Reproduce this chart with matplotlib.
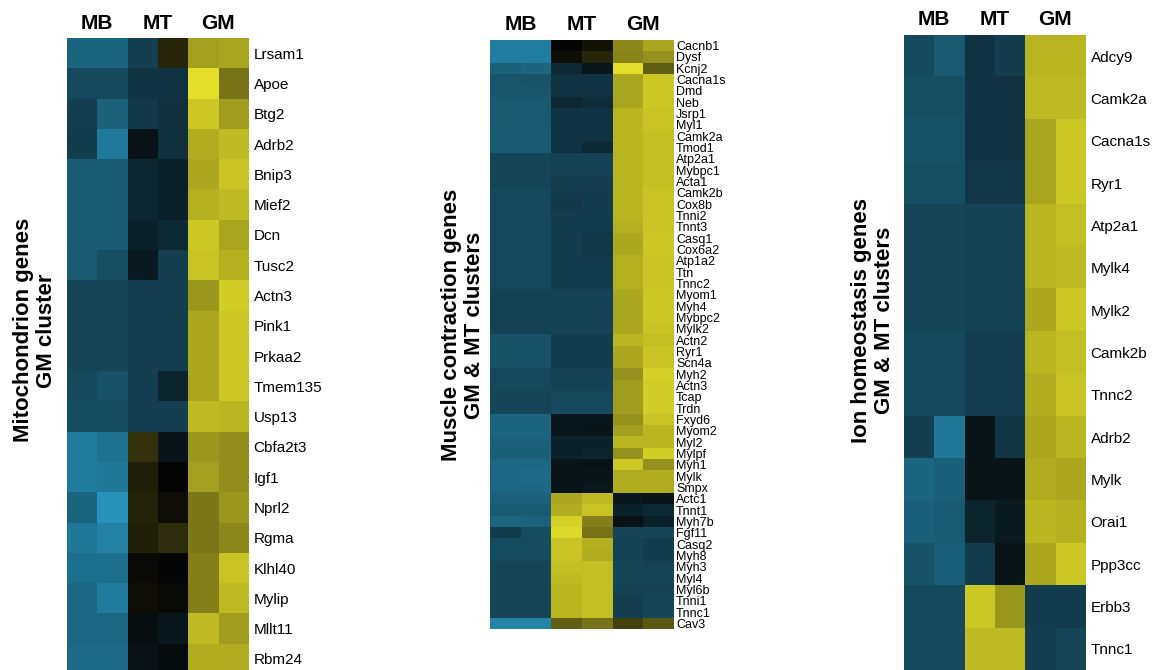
import matplotlib
matplotlib.use("Agg")
import matplotlib.pyplot as plt
import numpy as np
from matplotlib.colors import LinearSegmentedColormap

plt.rcParams['font.family'] = ['Liberation Sans', 'DejaVu Sans']

# Grupos de columnas (2 réplicas por grupo)
grupos = ["MB", "MT", "GM"]

# Panel 1: genes mitocondriales
genes_mito = ["Lrsam1", "Apoe", "Btg2", "Adrb2", "Bnip3", "Mief2", "Dcn", "Tusc2",
              "Actn3", "Pink1", "Prkaa2", "Tmem135", "Usp13", "Cbfa2t3", "Igf1",
              "Nprl2", "Rgma", "Klhl40", "Mylip", "Mllt11", "Rbm24"]
valores_mito = [
    [-0.62, -0.62, -0.38, 0.15, 0.70, 0.72],
    [-0.45, -0.45, -0.30, -0.30, 0.98, 0.50],
    [-0.38, -0.60, -0.34, -0.28, 0.88, 0.68],
    [-0.36, -0.75, -0.08, -0.28, 0.76, 0.82],
    [-0.56, -0.56, -0.22, -0.18, 0.74, 0.86],
    [-0.56, -0.56, -0.22, -0.18, 0.78, 0.82],
    [-0.56, -0.56, -0.18, -0.24, 0.88, 0.72],
    [-0.54, -0.48, -0.14, -0.38, 0.86, 0.78],
    [-0.42, -0.42, -0.38, -0.38, 0.66, 0.90],
    [-0.42, -0.42, -0.38, -0.38, 0.74, 0.88],
    [-0.42, -0.42, -0.38, -0.38, 0.74, 0.88],
    [-0.44, -0.50, -0.38, -0.20, 0.74, 0.88],
    [-0.46, -0.46, -0.38, -0.38, 0.82, 0.80],
    [-0.76, -0.70, 0.20, -0.10, 0.66, 0.62],
    [-0.76, -0.74, 0.12, 0.00, 0.70, 0.62],
    [-0.62, -0.92, 0.14, 0.04, 0.52, 0.66],
    [-0.74, -0.80, 0.12, 0.18, 0.52, 0.60],
    [-0.68, -0.68, 0.02, 0.00, 0.56, 0.86],
    [-0.64, -0.76, 0.04, 0.02, 0.56, 0.82],
    [-0.64, -0.64, -0.06, -0.12, 0.82, 0.68],
    [-0.66, -0.66, -0.08, -0.04, 0.76, 0.76],
]

# Panel 2: genes de contracción muscular
genes_musculo = ["Cacnb1", "Dysf", "Kcnj2", "Cacna1s", "Dmd", "Neb", "Jsrp1", "Myl1",
                 "Camk2a", "Tmod1", "Atp2a1", "Mybpc1", "Acta1", "Camk2b", "Cox8b",
                 "Tnni2", "Tnnt3", "Casq1", "Cox6a2", "Atp1a2", "Ttn", "Tnnc2", "Myom1",
                 "Myh4", "Mybpc2", "Mylk2", "Actn2", "Ryr1", "Scn4a", "Myh2", "Actn3",
                 "Tcap", "Trdn", "Fxyd6", "Myom2", "Myl2", "Mylpf", "Myh1", "Mylk",
                 "Smpx", "Actc1", "Tnnt1", "Myh7b", "Fgf11", "Casq2", "Myh8", "Myh3",
                 "Myl4", "Myl6b", "Tnni1", "Tnnc1", "Cav3"]
valores_musculo = [
    [-0.78, -0.78, 0.00, 0.06, 0.60, 0.72],
    [-0.78, -0.78, 0.04, 0.15, 0.58, 0.64],
    [-0.60, -0.62, -0.24, -0.12, 0.98, 0.40],
    [-0.52, -0.50, -0.30, -0.30, 0.72, 0.88],
    [-0.52, -0.52, -0.30, -0.30, 0.72, 0.88],
    [-0.54, -0.54, -0.22, -0.26, 0.72, 0.88],
    [-0.54, -0.54, -0.30, -0.30, 0.80, 0.86],
    [-0.54, -0.54, -0.30, -0.30, 0.80, 0.86],
    [-0.56, -0.56, -0.30, -0.30, 0.80, 0.84],
    [-0.56, -0.56, -0.30, -0.24, 0.80, 0.84],
    [-0.42, -0.42, -0.40, -0.40, 0.80, 0.84],
    [-0.42, -0.42, -0.40, -0.40, 0.80, 0.84],
    [-0.42, -0.42, -0.38, -0.38, 0.80, 0.84],
    [-0.44, -0.44, -0.36, -0.36, 0.80, 0.86],
    [-0.44, -0.44, -0.34, -0.36, 0.80, 0.86],
    [-0.44, -0.44, -0.36, -0.36, 0.80, 0.86],
    [-0.44, -0.44, -0.36, -0.36, 0.78, 0.86],
    [-0.44, -0.44, -0.36, -0.34, 0.74, 0.88],
    [-0.44, -0.44, -0.36, -0.34, 0.74, 0.88],
    [-0.44, -0.44, -0.36, -0.36, 0.78, 0.86],
    [-0.44, -0.44, -0.36, -0.36, 0.78, 0.86],
    [-0.44, -0.44, -0.36, -0.36, 0.78, 0.86],
    [-0.40, -0.40, -0.40, -0.40, 0.74, 0.88],
    [-0.40, -0.40, -0.40, -0.40, 0.72, 0.88],
    [-0.40, -0.40, -0.40, -0.40, 0.72, 0.88],
    [-0.40, -0.40, -0.40, -0.40, 0.74, 0.86],
    [-0.50, -0.50, -0.36, -0.36, 0.80, 0.84],
    [-0.50, -0.50, -0.36, -0.36, 0.74, 0.86],
    [-0.50, -0.50, -0.36, -0.36, 0.74, 0.86],
    [-0.44, -0.44, -0.40, -0.40, 0.64, 0.92],
    [-0.44, -0.44, -0.40, -0.40, 0.68, 0.90],
    [-0.42, -0.42, -0.44, -0.44, 0.68, 0.90],
    [-0.42, -0.42, -0.44, -0.44, 0.68, 0.90],
    [-0.62, -0.62, -0.12, -0.12, 0.64, 0.86],
    [-0.62, -0.62, -0.12, -0.10, 0.70, 0.80],
    [-0.60, -0.60, -0.18, -0.18, 0.80, 0.80],
    [-0.58, -0.58, -0.18, -0.20, 0.64, 0.90],
    [-0.64, -0.64, -0.10, -0.08, 0.88, 0.64],
    [-0.64, -0.66, -0.08, -0.10, 0.76, 0.76],
    [-0.64, -0.64, -0.10, -0.12, 0.76, 0.76],
    [-0.60, -0.60, 0.74, 0.82, -0.12, -0.10],
    [-0.56, -0.56, 0.76, 0.86, -0.18, -0.24],
    [-0.62, -0.60, 0.92, 0.56, -0.08, -0.18],
    [-0.36, -0.46, 0.96, 0.50, -0.42, -0.42],
    [-0.46, -0.46, 0.86, 0.78, -0.40, -0.36],
    [-0.46, -0.46, 0.86, 0.76, -0.40, -0.36],
    [-0.42, -0.42, 0.84, 0.84, -0.42, -0.40],
    [-0.42, -0.42, 0.82, 0.84, -0.42, -0.42],
    [-0.42, -0.42, 0.80, 0.84, -0.40, -0.40],
    [-0.42, -0.42, 0.80, 0.84, -0.38, -0.42],
    [-0.42, -0.42, 0.80, 0.84, -0.38, -0.42],
    [-0.82, -0.82, 0.40, 0.50, 0.28, 0.38],
]

# Panel 3: homeostasis iónica
genes_ion = ["Adcy9", "Camk2a", "Cacna1s", "Ryr1", "Atp2a1", "Mylk4", "Mylk2",
             "Camk2b", "Tnnc2", "Adrb2", "Mylk", "Orai1", "Ppp3cc", "Erbb3", "Tnnc1"]
valores_ion = [
    [-0.44, -0.54, -0.30, -0.36, 0.80, 0.80],
    [-0.48, -0.48, -0.30, -0.30, 0.82, 0.82],
    [-0.50, -0.50, -0.30, -0.30, 0.72, 0.88],
    [-0.48, -0.48, -0.34, -0.34, 0.72, 0.88],
    [-0.42, -0.42, -0.40, -0.40, 0.80, 0.84],
    [-0.42, -0.42, -0.40, -0.40, 0.80, 0.82],
    [-0.42, -0.42, -0.40, -0.40, 0.74, 0.88],
    [-0.44, -0.44, -0.38, -0.38, 0.80, 0.84],
    [-0.44, -0.44, -0.38, -0.38, 0.76, 0.86],
    [-0.38, -0.74, -0.10, -0.32, 0.74, 0.80],
    [-0.62, -0.58, -0.10, -0.10, 0.76, 0.74],
    [-0.58, -0.56, -0.20, -0.14, 0.80, 0.78],
    [-0.50, -0.58, -0.36, -0.10, 0.74, 0.88],
    [-0.44, -0.44, 0.88, 0.66, -0.36, -0.36],
    [-0.44, -0.44, 0.82, 0.82, -0.38, -0.42],
]

titulos = ["Mitochondrion genes\nGM cluster",
           "Muscle contraction genes\nGM & MT clusters",
           "Ion homeostasis genes\nGM & MT clusters"]

# Mapa de color azul - negro - amarillo
cmap = LinearSegmentedColormap.from_list("bky", ["#2aa0cc", "#050505", "#e6e22a"])

fig = plt.figure(figsize=(11.59, 6.70), dpi=100)

# [izq, abajo, ancho, alto], tamaño etiquetas, posición título lateral
paneles = [
    (genes_mito, valores_mito, [0.0578, -0.006, 0.1562, 0.949], 11, 4, (0.030, 0.507)),
    (genes_musculo, valores_musculo, [0.4228, 0.0612, 0.158, 0.8791], 9, 2, (0.3995, 0.515)),
    (genes_ion, valores_ion, [0.780, 0.0, 0.1562, 0.9478], 11, 4, (0.753, 0.522)),
]

for (genes, valores, pos, fs, pad, tpos), titulo in zip(paneles, titulos):
    ax = fig.add_axes(pos)
    ax.imshow(np.array(valores), cmap=cmap, vmin=-1, vmax=1,
              aspect="auto", interpolation="nearest")
    ax.yaxis.tick_right()
    ax.set_yticks(range(len(genes)))
    ax.set_yticklabels(genes, fontsize=fs)
    ax.tick_params(axis="y", length=0, pad=pad)
    ax.set_xticks([])
    for s in ax.spines.values():
        s.set_visible(False)
    # cabeceras de grupo
    for i, g in enumerate(grupos):
        ax.annotate(g, xy=(2 * i + 0.5, 1), xycoords=("data", "axes fraction"),
                    xytext=(0, 4), textcoords="offset points",
                    ha="center", va="bottom", fontsize=15, fontweight="bold",
                    annotation_clip=False)
    fig.text(tpos[0], tpos[1], titulo, rotation=90, ha="center", va="center",
             fontsize=16, fontweight="bold", linespacing=1.15)

plt.savefig("out.png", dpi=100)
